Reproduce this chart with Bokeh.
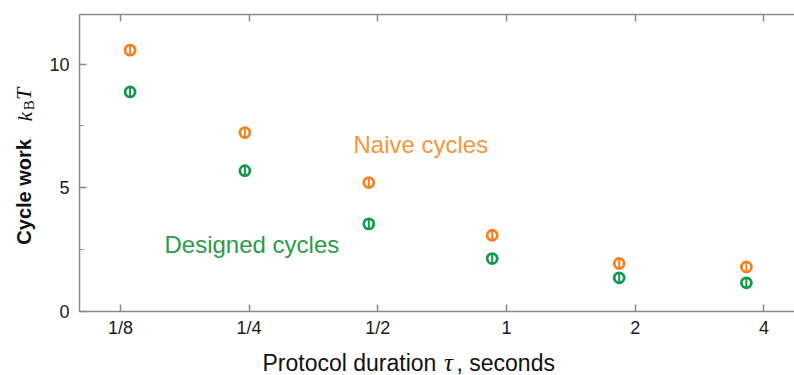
import math
from bokeh.plotting import figure
from bokeh.layouts import row, column
from bokeh.models import Range1d, FixedTicker, LogAxis, Label, ColumnDataSource
from bokeh.embed import file_html
from bokeh.resources import INLINE

# ---- data ----
tau_seconds = [0.1317, 0.2444, 0.4764, 0.926, 1.835, 3.64]
naive_work = [10.56, 7.23, 5.21, 3.08, 1.94, 1.80]
naive_err = [0.22, 0.22, 0.22, 0.20, 0.20, 0.20]
designed_work = [8.87, 5.69, 3.54, 2.14, 1.36, 1.16]
designed_err = [0.22, 0.22, 0.22, 0.20, 0.20, 0.20]

x_ticks = [0.125, 0.25, 0.5, 1, 2, 4]
x_tick_labels = ["1/8", "1/4", "1/2", "1", "2", "4"]
y_ticks = [0, 5, 10]
y_minor_ticks = [2.5, 7.5]

ORANGE = "#f5821f"
ORANGE_TXT = "#f7963a"
GREEN = "#0f9a4c"
GREEN_TXT = "#2a9c45"
AXIS = "#8a8a8a"
INK = "#111111"
FONT = "Liberation Sans"
SERIF = "Liberation Serif"

W, H = 794, 375
YW = 46          # width of the y-label strip
XH = 35          # height of the x-label strip
MAIN_H = H - XH  # 340
BASE_FIX = 7     # Label 'alphabetic' anchor sits this many px below the glyph baseline

# page-pixel helpers (used only to place annotation texts)
def px_x(px):
    return 2 ** ((px - 506) / 128.7)

def px_y(py):
    return (312 - py) / 24.8

x_lo, x_hi = px_x(79), px_x(794)

p = figure(width=W - YW, height=MAIN_H, x_axis_type="log",
           x_range=Range1d(x_lo, x_hi), y_range=Range1d(0, 12),
           output_backend="svg", toolbar_location=None,
           min_border_left=79 - YW, min_border_right=0,
           min_border_top=14, min_border_bottom=MAIN_H - 312)
p.outline_line_color = None
p.xgrid.grid_line_color = None
p.ygrid.grid_line_color = None
p.background_fill_color = "white"
p.border_fill_color = "white"

# bottom axis
xa = p.xaxis[0]
xa.ticker = FixedTicker(ticks=x_ticks, minor_ticks=[])
xa.major_label_overrides = {t: l for t, l in zip(x_ticks, x_tick_labels)}
xa.major_tick_in = 7
xa.major_tick_out = 0
xa.minor_tick_in = 0
xa.minor_tick_out = 0
xa.axis_line_color = AXIS
xa.axis_line_width = 1.5
xa.major_tick_line_color = AXIS
xa.major_tick_line_width = 1.5
xa.major_label_text_font = FONT
xa.major_label_text_font_size = "18px"
xa.major_label_text_color = "#1a1a1a"
xa.major_label_standoff = 6

# left axis
ya = p.yaxis[0]
ya.ticker = FixedTicker(ticks=y_ticks, minor_ticks=y_minor_ticks)
ya.major_tick_in = 7
ya.major_tick_out = 0
ya.minor_tick_in = 4
ya.minor_tick_out = 0
ya.axis_line_color = AXIS
ya.axis_line_width = 1.5
ya.major_tick_line_color = AXIS
ya.major_tick_line_width = 1.5
ya.minor_tick_line_color = AXIS
ya.minor_tick_line_width = 1.2
ya.major_label_text_font = FONT
ya.major_label_text_font_size = "18px"
ya.major_label_text_color = "#1a1a1a"
ya.major_label_standoff = 10

# top axis: ticks only (labels not painted)
top = LogAxis(ticker=FixedTicker(ticks=x_ticks, minor_ticks=[]),
              major_tick_in=7, major_tick_out=0, minor_tick_in=0, minor_tick_out=0,
              axis_line_color=AXIS, axis_line_width=1.5,
              major_tick_line_color=AXIS, major_tick_line_width=1.5,
              major_label_text_font_size="1px", major_label_text_color=None,
              major_label_standoff=0)
p.add_layout(top, "above")

# error bars + markers
for work, err, col in [(naive_work, naive_err, ORANGE), (designed_work, designed_err, GREEN)]:
    src = ColumnDataSource(dict(
        x=tau_seconds, y=work,
        lo=[w - e for w, e in zip(work, err)],
        hi=[w + e for w, e in zip(work, err)]))
    p.scatter("x", "y", source=src, marker="circle", size=10, line_width=2.8,
              line_color=col, fill_color="white")
    p.segment(x0="x", y0="lo", x1="x", y1="hi", source=src, line_width=2, line_color=col)

# series labels
p.add_layout(Label(x=px_x(353), y=px_y(152 - BASE_FIX), text="Naive cycles", text_font=FONT,
                   text_font_size="24px", text_color=ORANGE_TXT,
                   text_align="left", text_baseline="alphabetic"))
p.add_layout(Label(x=px_x(164), y=px_y(251.5 - BASE_FIX), text="Designed cycles", text_font=FONT,
                   text_font_size="24px", text_color=GREEN_TXT,
                   text_align="left", text_baseline="alphabetic"))

# ---- y-label strip ----
yfig = figure(width=YW, height=MAIN_H, x_range=Range1d(0, YW), y_range=Range1d(0, MAIN_H),
              output_backend="svg", toolbar_location=None,
              x_axis_location=None, y_axis_location=None,
              min_border_left=0, min_border_right=0, min_border_top=0, min_border_bottom=0)
yfig.outline_line_color = None
yfig.xgrid.grid_line_color = None
yfig.ygrid.grid_line_color = None
rot = math.pi / 2

def ylab(px, py, text, font, size, style="normal"):
    yfig.add_layout(Label(x=px, y=MAIN_H - py, text=text, angle=rot,
                          text_font=font, text_font_size=size, text_font_style=style,
                          text_color=INK, text_align="center", text_baseline="middle"))

ylab(23, 203, "Cycle work", FONT, "20px", "bold")
ylab(23.5, 117, "k", SERIF, "22px", "italic")
ylab(28, 104, "B", SERIF, "15px")
ylab(22.5, 91, "T", SERIF, "22px", "italic")

# ---- x-label strip ----
xfig = figure(width=W, height=XH, x_range=Range1d(0, W), y_range=Range1d(0, XH),
              output_backend="svg", toolbar_location=None,
              x_axis_location=None, y_axis_location=None,
              min_border_left=0, min_border_right=0, min_border_top=0, min_border_bottom=0)
xfig.outline_line_color = None
xfig.xgrid.grid_line_color = None
xfig.ygrid.grid_line_color = None

def xlab(px, text, font, size, align, style="normal"):
    xfig.add_layout(Label(x=px, y=H - (369 - BASE_FIX), text=text,
                          text_font=font, text_font_size=size, text_font_style=style,
                          text_color=INK, text_align=align, text_baseline="alphabetic"))

xlab(262, "Protocol duration", FONT, "23px", "left")
xlab(448, "τ", SERIF, "25px", "center", "italic")
xlab(456, ", seconds", FONT, "23px", "left")

layout = column(row(yfig, p, spacing=0), xfig, spacing=0)
open("out.html", "w").write(file_html(layout, INLINE))
